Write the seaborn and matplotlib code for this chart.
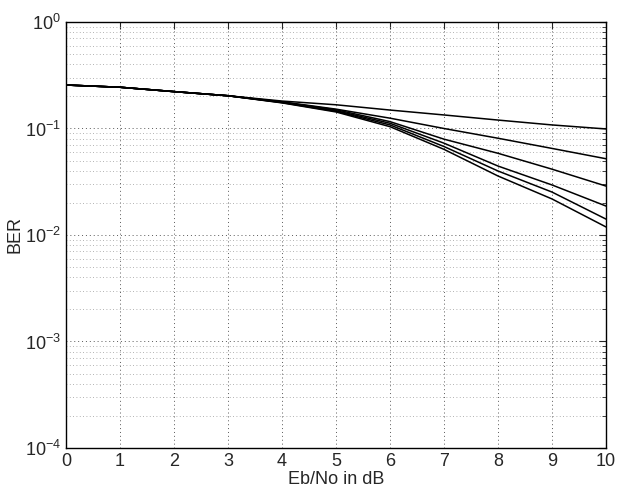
import numpy as np
import pandas as pd
import matplotlib
matplotlib.use('Agg')
import matplotlib.pyplot as plt
import seaborn as sns
from matplotlib.ticker import LogLocator, NullFormatter

# Eb/No 采样点 (dB)
ebno = [0, 1, 2, 3, 4, 5, 6, 7, 8, 9, 10]

# 六条 BER 曲线
ber_1 = [0.256, 0.244, 0.222, 0.203, 0.181, 0.167, 0.149, 0.134, 0.120, 0.108, 0.099]
ber_2 = [0.256, 0.244, 0.222, 0.203, 0.178, 0.152, 0.125, 0.100, 0.081, 0.065, 0.052]
ber_3 = [0.256, 0.244, 0.222, 0.203, 0.177, 0.150, 0.116, 0.0794, 0.0585, 0.0415, 0.0288]
ber_4 = [0.256, 0.244, 0.222, 0.203, 0.176, 0.147, 0.112, 0.0728, 0.0444, 0.0295, 0.0187]
ber_5 = [0.256, 0.244, 0.222, 0.203, 0.175, 0.145, 0.108, 0.0677, 0.0399, 0.0253, 0.0141]
ber_6 = [0.256, 0.244, 0.222, 0.203, 0.174, 0.143, 0.104, 0.0637, 0.0358, 0.0218, 0.0119]

curves = {'c1': ber_1, 'c2': ber_2, 'c3': ber_3, 'c4': ber_4, 'c5': ber_5, 'c6': ber_6}
df = pd.concat([pd.DataFrame({'ebno': ebno, 'ber': v, 'curve': k}) for k, v in curves.items()])

sns.set_style('white')
plt.rcParams['font.family'] = ['Liberation Sans', 'DejaVu Sans']

fig = plt.figure(figsize=(6.19, 4.91), dpi=100)
ax = fig.add_axes([0.1066, 0.0876, 0.8724, 0.8676])

sns.lineplot(data=df, x='ebno', y='ber', hue='curve', palette=['black'] * 6,
             legend=False, linewidth=1.1, ax=ax)

ax.set_yscale('log')
ax.set_xlim(0, 10)
ax.set_ylim(1e-4, 1)
ax.set_xticks(range(0, 11))
ax.yaxis.set_major_locator(LogLocator(base=10, numticks=10))
ax.yaxis.set_minor_locator(LogLocator(base=10, subs=np.arange(2, 10), numticks=20))
ax.yaxis.set_minor_formatter(NullFormatter())

# MATLAB 风格的点状网格
ax.grid(True, which='major', linestyle=(0, (1, 3)), color='0.35', linewidth=0.7)
ax.grid(True, which='minor', axis='y', linestyle=(0, (1, 3)), color='0.6', linewidth=0.6)

ax.tick_params(which='both', direction='in', top=True, right=True, labelsize=13)
ax.tick_params(which='major', length=5)
ax.tick_params(which='minor', length=3)

for s in ax.spines.values():
    s.set_color('black')
    s.set_linewidth(1.0)

ax.set_xlabel('Eb/No in dB', fontsize=13, labelpad=1)
ax.set_ylabel('BER', fontsize=13, labelpad=1)

fig.savefig('out.png', dpi=100)
